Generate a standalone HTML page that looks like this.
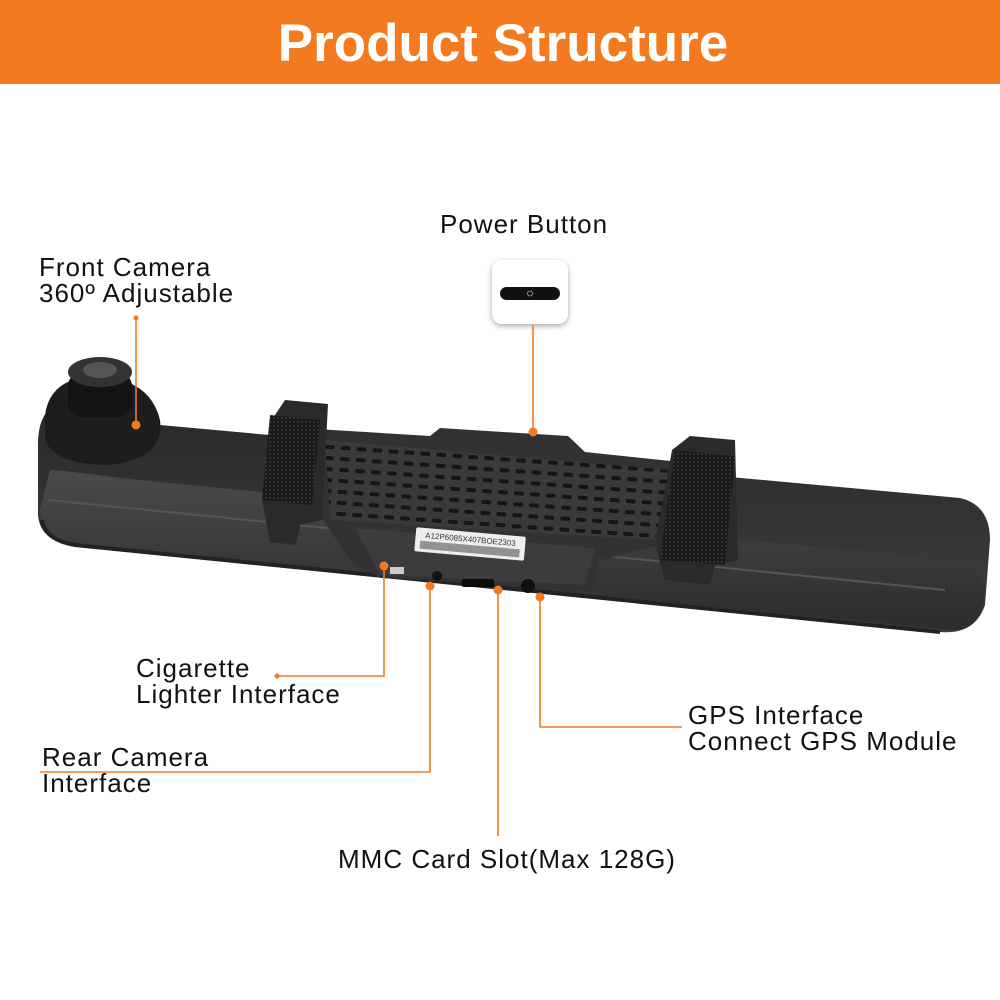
<!DOCTYPE html>
<html><head><meta charset="utf-8"><style>
html,body{margin:0;padding:0;background:#fff}
svg{display:block}
text{font-family:"Liberation Sans",sans-serif;fill:#111}
</style></head><body>
<svg width="1000" height="1000" viewBox="0 0 1000 1000" xmlns="http://www.w3.org/2000/svg">
<defs>
<linearGradient id="body" x1="0" y1="0" x2="0" y2="1">
<stop offset="0" stop-color="#2a2a2c"/><stop offset="1" stop-color="#3e3e40"/>
</linearGradient>
<linearGradient id="face" x1="0" y1="0" x2="0" y2="1">
<stop offset="0" stop-color="#4a4a4c"/><stop offset="1" stop-color="#2c2c2e"/>
</linearGradient>
<pattern id="grill" width="16" height="11" patternUnits="userSpaceOnUse" patternTransform="rotate(4)">
<rect width="16" height="11" fill="#3a3a3c"/><rect x="3" y="3" width="10" height="4" rx="2" fill="#151515"/>
</pattern>
<pattern id="velcro" width="4" height="4" patternUnits="userSpaceOnUse">
<rect width="4" height="4" fill="#1a1a1a"/><circle cx="2" cy="2" r="1" fill="#3a3a3a"/>
</pattern>
<filter id="sh" x="-30%" y="-30%" width="160%" height="160%"><feDropShadow dx="0" dy="2" stdDeviation="3" flood-opacity="0.35"/></filter>
</defs>
<rect x="0" y="0" width="1000" height="84" fill="#f47a20"/>
<text x="503" y="61" text-anchor="middle" font-size="53" font-weight="bold" style="fill:#fff">Product Structure</text>

<!-- body -->
<path d="M60 405 Q40 408 38 440 L38 515 Q40 540 70 545 L940 632 Q975 635 985 605 L990 540 Q990 505 960 498 L160 425 Z" fill="url(#body)"/>
<path d="M50 470 Q60 470 120 478 L950 560 Q985 565 985 595 Q980 632 950 630 L75 545 Q40 540 40 510 Z" fill="url(#face)"/>
<path d="M48 500 L945 590" stroke="#555" stroke-width="2" fill="none"/>
<path d="M42 520 Q45 540 75 545 L940 632" stroke="#222" stroke-width="4" fill="none"/>
<!-- camera -->
<path d="M45 415 Q50 378 95 376 Q150 378 160 420 Q165 458 110 465 Q55 465 45 440 Z" fill="#1d1d1f"/>
<rect x="68" y="372" width="64" height="45" rx="14" fill="#141414"/>
<ellipse cx="100" cy="372" rx="32" ry="15" fill="#333"/>
<ellipse cx="100" cy="370" rx="17" ry="8" fill="#555"/>
<!-- centre panel -->
<path d="M300 428 L430 436 L440 428 L568 436 L585 452 L680 462 L660 545 L600 560 L590 590 L380 578 L350 560 L320 515 Z" fill="#323234"/>
<path d="M325 440 L670 470 L655 540 L330 520 Z" fill="url(#grill)"/>
<path d="M355 528 L595 548 L585 585 L380 575 Z" fill="#3c3c3e"/>
<g transform="rotate(5 470 545)"><rect x="415" y="532" width="110" height="24" rx="2" fill="#eee"/>
<text x="470" y="542" text-anchor="middle" font-size="8" style="fill:#333">A12P6085X407BOE2303</text>
<rect x="420" y="545" width="100" height="8" fill="#555" opacity=".6"/></g>
<rect x="390" y="567" width="14" height="7" fill="#ccc"/>
<circle cx="437" cy="576" r="5" fill="#111"/>
<rect x="462" y="579" width="32" height="8" rx="2" fill="#0c0c0c"/>
<circle cx="528" cy="586" r="7" fill="#0f0f0f"/>
<!-- straps -->
<path d="M285 400 L328 404 L322 520 L300 525 L296 545 L270 542 L262 500 L275 415 Z" fill="#2a2a2a"/>
<path d="M270 415 L320 420 L312 505 L262 500 Z" fill="url(#velcro)"/>
<path d="M690 436 L735 440 L738 560 L715 565 L710 585 L665 580 L655 545 L672 450 Z" fill="#2a2a2a"/>
<path d="M675 450 L735 456 L725 565 L660 560 Z" fill="url(#velcro)"/>

<!-- power button -->
<rect x="492" y="260" width="76" height="64" rx="10" fill="#fff" filter="url(#sh)"/>
<rect x="500" y="287" width="60" height="13" rx="6.5" fill="#111"/>
<circle cx="530" cy="293.5" r="2.5" fill="none" stroke="#aaa" stroke-width="0.8"/>

<!-- leaders -->
<g stroke="#f47a20" stroke-width="1.6" fill="none">
<path d="M533 325 L533 432"/>
<path d="M136 318 L136 425"/>
<path d="M277 676 L384 676 L384 566"/>
<path d="M40 772 L430 772 L430 586"/>
<path d="M498 590 L498 836"/>
<path d="M540 597 L540 727 L682 727"/>
</g>
<g fill="#f47a20">
<circle cx="533" cy="432" r="4.5"/><circle cx="136" cy="318" r="2.5"/><circle cx="136" cy="425" r="4.5"/>
<circle cx="277" cy="676" r="2.5"/><circle cx="384" cy="566" r="4.5"/>
<circle cx="430" cy="586" r="4.5"/><circle cx="498" cy="590" r="4.5"/><circle cx="540" cy="597" r="4.5"/>
</g>

<g font-size="26" letter-spacing="1">
<text x="440" y="233">Power Button</text>
<text x="39" y="276">Front Camera</text>
<text x="39" y="302">360º Adjustable</text>
<text x="136" y="677">Cigarette</text>
<text x="136" y="703">Lighter Interface</text>
<text x="42" y="766">Rear Camera</text>
<text x="42" y="792">Interface</text>
<text x="688" y="724">GPS Interface</text>
<text x="688" y="750">Connect GPS Module</text>
<text x="338" y="868">MMC Card Slot(Max 128G)</text>
</g>
</svg>
</body></html>
